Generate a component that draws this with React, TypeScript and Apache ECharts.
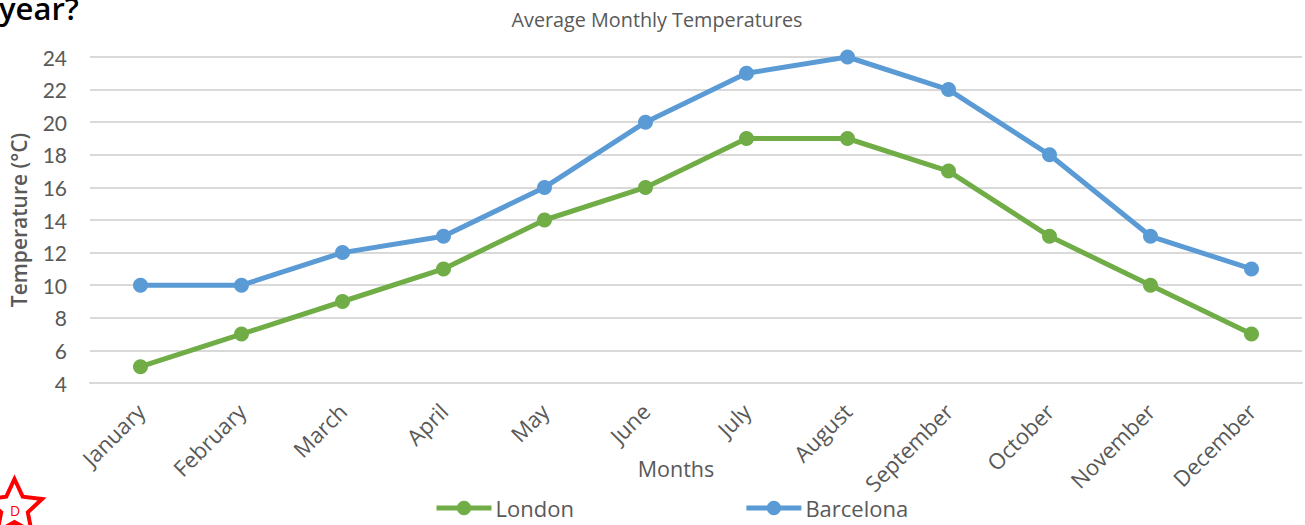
import React, { useEffect, useRef } from "react";
import * as echarts from "echarts";

const months = ["January","February","March","April","May","June","July","August","September","October","November","December"];
const london = [5,7,9,11,14,16,19,19,17,13,10,7];
const barcelona = [10,10,12,13,16,20,23,24,22,18,13,11];
const FONT = "Open Sans";
const NUM = "Lato";
const GREY = "#595959";

const starPoints = () => {
  const pts: number[][] = [];
  for (let i = 0; i < 10; i++) {
    const r = i % 2 ? 14 : 29;
    const a = -Math.PI / 2 + (i * Math.PI) / 5;
    pts.push([14.5 + r * Math.cos(a), 508 + r * Math.sin(a)]);
  }
  return pts;
};

export default function App() {
  const ref = useRef<HTMLDivElement>(null);
  useEffect(() => {
    const chart = echarts.init(ref.current!, undefined, { renderer: "svg" });
    const line = (name: string, data: number[], color: string) => ({
      name, type: "line", data, symbol: "circle", symbolSize: 15, showSymbol: true,
      lineStyle: { color, width: 5 }, itemStyle: { color }, z: 3,
    });
    chart.setOption({
      animation: false,
      title: {
        text: "Average Monthly Temperatures", left: 652, top: 4, textAlign: "center",
        textStyle: { fontFamily: FONT, fontSize: 19.8, fontWeight: "normal", color: GREY },
      },
      legend: {
        left: 429, top: 492, itemGap: 170, itemWidth: 55, itemHeight: 18,
        data: ["London", "Barcelona"],
        lineStyle: { width: 5 },
        textStyle: { fontFamily: FONT, fontSize: 22, color: GREY, padding: [0, 0, 0, -1] },
      },
      grid: { left: 89, right: 3, top: 57, bottom: 142 },
      xAxis: {
        type: "category", data: months, boundaryGap: true,
        name: "Months", nameLocation: "middle", nameGap: 74, nameMoveOverlap: false,
        nameTextStyle: { fontFamily: FONT, fontSize: 21.5, color: GREY, padding: [0, 40, 0, 0], fontWeight: 500 },
        axisLine: { lineStyle: { color: "#d9d9d9", width: 2 } },
        axisTick: { show: false },
        axisLabel: { rotate: 45, interval: 0, fontFamily: FONT, fontSize: 22, color: GREY, margin: 24 },
      },
      yAxis: {
        type: "value", min: 4, max: 24, interval: 2,
        name: "Temperature (°C)", nameLocation: "middle", nameGap: 61, nameRotate: 90,
        nameTextStyle: { fontFamily: FONT, fontSize: 21, color: GREY, fontWeight: 600 },
        axisLine: { show: false }, axisTick: { show: false },
        axisLabel: { fontFamily: NUM, fontSize: 21, color: GREY, margin: 23, padding: [0, 0, 5, 0] },
        splitLine: { lineStyle: { color: "#d9d9d9", width: 2 } },
      },
      series: [line("London", london, "#70ad47"), line("Barcelona", barcelona, "#5b9bd5")],
      graphic: [
        { type: "text", x: -1, y: -8, style: { text: "year?", fontFamily: FONT, fontSize: 31, fontWeight: 600, fill: "#000" } },
        { type: "polygon", shape: { points: starPoints() }, style: { fill: "#fff", stroke: "#ff0000", lineWidth: 4 } },
        { type: "text", x: 15, y: 510, style: { text: "D", fontFamily: FONT, fontSize: 14, fill: "#ff0000", align: "center", verticalAlign: "middle" } },
      ],
    });
    return () => chart.dispose();
  }, []);
  return <div ref={ref} style={{ position: "absolute", left: 0, top: 0, width: 1305, height: 525 }} />;
}
